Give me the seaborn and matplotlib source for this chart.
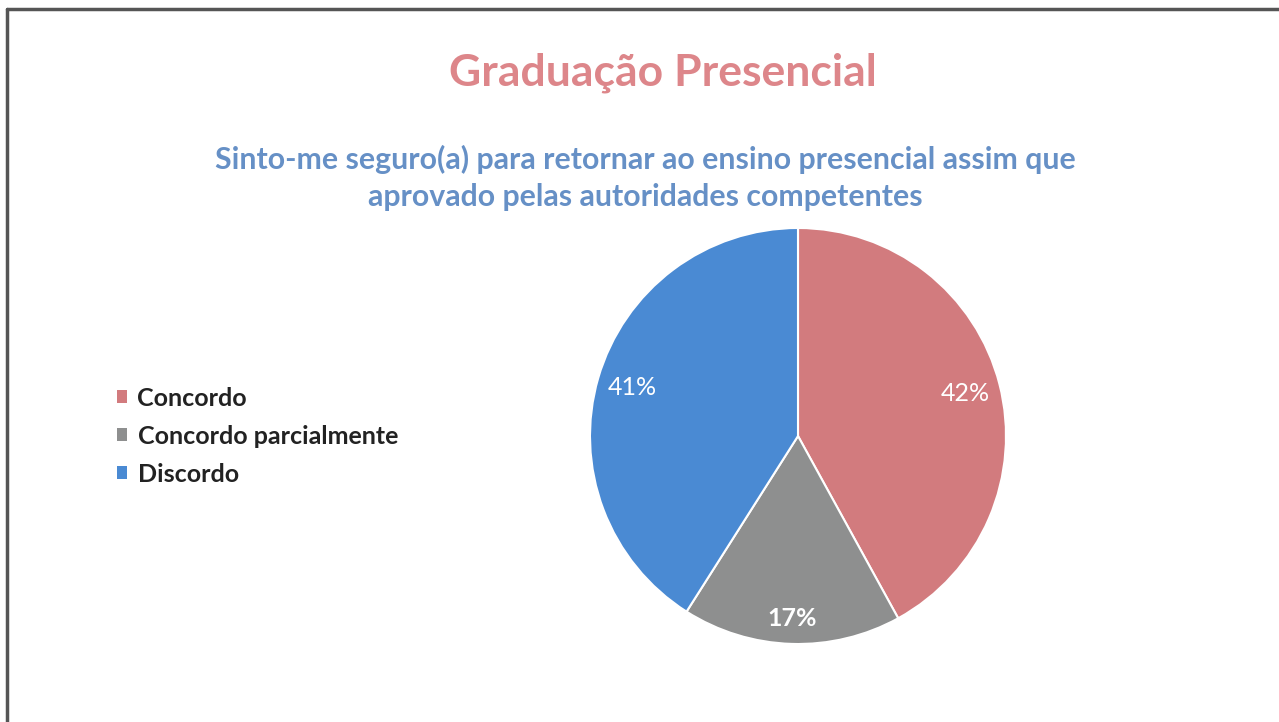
import matplotlib
matplotlib.use("Agg")
import matplotlib.pyplot as plt
from matplotlib.lines import Line2D
from matplotlib.patches import Patch
import seaborn as sns

# ── Data ───────────────────────────────────────────────────
categories = ["Concordo", "Concordo parcialmente", "Discordo"]
shares = [42, 17, 41]
colors = ["#D27B7E", "#8E8F8F", "#4A8AD3"]

title = "Graduação Presencial"
subtitle = ("Sinto-me seguro(a) para retornar ao ensino presencial assim que\n"
            "aprovado pelas autoridades competentes")

W, H = 1279, 722

sns.set_theme(style="white")
plt.rcParams["font.family"] = ["Lato", "DejaVu Sans"]

fig = plt.figure(figsize=(W / 100, H / 100), dpi=100)
fig.patch.set_facecolor("white")

# ── Pie ────────────────────────────────────────────────────
cx, cy, r = 798, 436, 208
ax = fig.add_axes([(cx - r) / W, (H - cy - r) / H, 2 * r / W, 2 * r / H])
wedges, texts, autotexts = ax.pie(
    shares,
    colors=colors,
    startangle=90,
    counterclock=False,
    autopct="%d%%",
    pctdistance=0.83,
    wedgeprops=dict(edgecolor="white", linewidth=1.5),
    textprops=dict(color="white", fontsize=18),
)
# push the small slice label a bit further out, like Excel's best fit
x, y = autotexts[1].get_position()
autotexts[1].set_position((x * 1.06, y * 1.06))
autotexts[1].set_fontweight("bold")
ax.set_xlim(-1, 1)
ax.set_ylim(-1, 1)
ax.set_aspect("equal")
ax.axis("off")

# ── Titles ─────────────────────────────────────────────────
fig.text(663 / W, 1 - 73 / H, title, ha="center", va="center",
         fontsize=32, fontweight="bold", color="#DD868A")
fig.text(645 / W, 1 - 178 / H, subtitle, ha="center", va="center",
         fontsize=21.8, fontweight="bold", color="#6690C6", linespacing=1.42)

# ── Legend ─────────────────────────────────────────────────
handles = [Patch(facecolor=c, edgecolor="none") for c in colors]
leg = fig.legend(handles, categories, loc="center left",
                 bbox_to_anchor=(95 / W, 1 - 436 / H), frameon=False,
                 prop=dict(size=18, weight="bold"), labelcolor="#222222",
                 handlelength=0.4, handleheight=0.4, handletextpad=0.4,
                 labelspacing=0.6)

# ── Frame ──────────────────────────────────────────────────
fig.add_artist(Line2D([7 / W, 1], [1 - 9 / H, 1 - 9 / H], color="#555555",
                      linewidth=2.5, transform=fig.transFigure))
fig.add_artist(Line2D([7 / W, 7 / W], [0, 1 - 9 / H], color="#555555",
                      linewidth=2.5, transform=fig.transFigure))

fig.savefig("out.png", dpi=100)
